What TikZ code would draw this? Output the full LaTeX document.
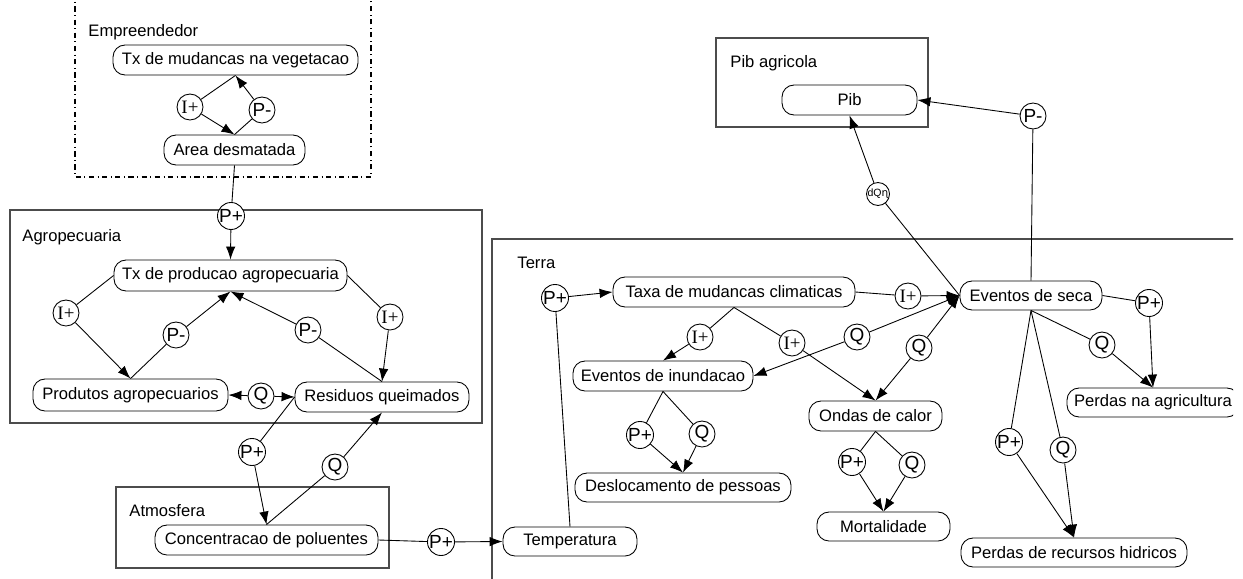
\documentclass[tikz,border=0pt]{standalone}
\usepackage{fontspec}
\setmainfont{Liberation Sans}
\newfontfamily\serifI{Liberation Serif}
\newfontfamily\dejavu{DejaVu Sans}
\usepackage{tikz}
\usetikzlibrary{arrows.meta}
\tikzset{>={Latex[length=2.6mm,width=1.9mm]}}

\begin{document}
\begin{tikzpicture}[x=0.02cm, y=-0.02cm, line width=0.5pt,
    font=\fontsize{9.45}{11}\selectfont,
    qty/.style={draw, rounded corners=0.24cm, minimum height=0.6cm, inner xsep=2pt, inner ysep=0pt},
    rel/.style={draw, circle, minimum size=0.52cm, inner sep=0pt, font=\fontsize{10.8}{12}\selectfont},
    lbl/.style={anchor=west, inner sep=0pt},
    frame/.style={draw=black!70, line width=0.8pt}]
  \useasboundingbox (0,0) rectangle (1243,578);
  \clip (0,0) rectangle (1233,578);
  % Empreendedor
  \draw[dash dot, line width=0.6pt] (75,-20) rectangle (371,177);
  \node[lbl] (lbEmp) at (88,32) {Empreendedor};
  \node[qty, minimum width=4.9cm] (veg) at (235.5,60) {Tx de mudancas na vegetacao};
  \node[qty, minimum width=2.82cm] (area) at (234.5,150) {Area desmatada};
  \node[rel] (vegI) at (190,107) {\serifI I+};
  \node[rel] (vegP) at (262,110) {P-};
  \draw (veg.south) -- (vegI);
  \draw[->] (vegI) -- (area.north);
  \draw (area.north) -- (vegP);
  \draw[->] (vegP) -- (veg.south);
  % Agropecuaria
  \draw[frame] (10,210) rectangle (482,423);
  \node[lbl] (lbAgro) at (22,237) {Agropecuaria};
  \node[qty, minimum width=4.66cm, minimum height=0.62cm] (prod) at (230.5,275.5) {Tx de producao agropecuaria};
  \node[qty, minimum width=3.9cm, minimum height=0.64cm] (produtos) at (130.5,395) {Produtos agropecuarios};
  \node[qty, minimum width=3.48cm] (res) at (382,397) {Residuos queimados};
  \node[rel, fill=white] (agP) at (231,216) {P+};
  \node[rel] (agIl) at (66,313) {\serifI I+};
  \node[rel] (agPl) at (176,335) {P-};
  \node[rel] (agPr) at (308,330) {P-};
  \node[rel] (agIr) at (390,317) {\serifI I+};
  \node[rel] (agQ) at (261,396) {Q};
  \draw (area.south) -- (agP);
  \draw[->] (agP) -- (prod.north);
  \draw (prod.west) -- (agIl);
  \draw[->] (agIl) -- (produtos.north);
  \draw (produtos.north) -- (agPl);
  \draw[->] (agPl) -- (prod.south);
  \draw (res.north) -- (agPr);
  \draw[->] (agPr) -- (prod.south);
  \draw (prod.east) -- (agIr);
  \draw[->] (agIr) -- (res.north);
  \draw[->] (agQ) -- (produtos.east);
  \draw[->] (agQ) -- (res.west);
  % Atmosfera
  \draw[frame] (116,487) rectangle (389,568);
  \node[lbl] (lbAtm) at (129,511) {Atmosfera};
  \node[qty, minimum width=4.46cm] (conc) at (266.5,540) {Concentracao de poluentes};
  \node[rel] (atP) at (252,452) {P+};
  \node[rel] (atQ) at (335,467) {Q};
  \node[rel] (atT) at (441,542) {P+};
  \draw (res.west) -- (atP);
  \draw[->] (atP) -- (conc.north);
  \draw (conc.north) -- (atQ);
  \draw[->] (atQ) -- (res.south);
  % Terra
  \draw[frame] (492,239) rectangle (1300,640);
  \node[lbl] (lbTerra) at (517,263) {Terra};
  \node[qty, minimum width=2.68cm, minimum height=0.58cm] (temp) at (570,541.5) {Temperatura};
  \node[qty, minimum width=4.84cm] (taxa) at (734,292) {Taxa de mudancas climaticas};
  \node[qty, minimum width=3.6cm] (inund) at (663,376) {Eventos de inundacao};
  \node[qty, minimum width=2.66cm] (ondas) at (875.5,416) {Ondas de calor};
  \node[qty, minimum width=4.32cm, minimum height=0.58cm] (desloc) at (683,487.5) {Deslocamento de pessoas};
  \node[qty, minimum width=2.66cm, minimum height=0.58cm] (mort) at (883.5,526.5) {Mortalidade};
  \node[qty, minimum width=2.84cm, minimum height=0.58cm] (seca) at (1031,295.5) {Eventos de seca};
  \node[qty, minimum width=3.44cm, minimum height=0.58cm] (agric) at (1153,402.5) {Perdas na agricultura};
  \node[qty, minimum width=4.52cm, minimum height=0.58cm] (hidr) at (1074,552.5) {Perdas de recursos hidricos};
  \draw (conc.east) -- (atT);
  \draw[->] (atT) -- (temp.west);
  \node[rel] (teP) at (555,298) {P+};
  \node[rel] (teI) at (908,296) {\serifI I+};
  \node[rel] (teIl) at (700,337) {\serifI I+};
  \node[rel] (teIr) at (792,343) {\serifI I+};
  \node[rel] (teQm) at (857,337) {Q};
  \node[rel] (teQr) at (919,348) {Q};
  \draw (temp.north) -- (teP);
  \draw[->] (teP) -- (taxa.west);
  \draw (taxa.east) -- (teI);
  \draw[->] (teI) -- (seca.west);
  \draw (taxa.south) -- (teIl);
  \draw[->] (teIl) -- (inund.north);
  \draw (taxa.south) -- (teIr);
  \draw[->] (teIr) -- (ondas.north);
  \draw[->] (teQm) -- (seca.west);
  \draw[->] (teQm) -- (inund.east);
  \draw[->] (teQr) -- (seca.west);
  \draw[->] (teQr) -- (ondas.north);
  % inundacao e calor
  \node[rel] (inP) at (640,435) {P+};
  \node[rel] (inQ) at (702,434) {Q};
  \node[rel] (onP) at (852,462) {P+};
  \node[rel] (onQ) at (912,465) {Q};
  \draw (inund.south) -- (inP);
  \draw[->] (inP) -- (desloc.north);
  \draw (inund.south) -- (inQ);
  \draw[->] (inQ) -- (desloc.north);
  \draw (ondas.south) -- (onP);
  \draw[->] (onP) -- (mort.north);
  \draw (ondas.south) -- (onQ);
  \draw[->] (onQ) -- (mort.north);
  % seca
  \node[rel] (sePa) at (1149,303) {P+};
  \node[rel] (seQa) at (1102,345) {Q};
  \node[rel] (sePh) at (1009,442) {P+};
  \node[rel] (seQh) at (1063,450) {Q};
  \draw (seca.east) -- (sePa);
  \draw[->] (sePa) -- (agric.north);
  \draw (seca.south) -- (seQa);
  \draw[->] (seQa) -- (agric.north);
  \draw (seca.south) -- (sePh);
  \draw[->] (sePh) -- (hidr.north);
  \draw (seca.south) -- (seQh);
  \draw[->] (seQh) -- (hidr.north);
  % Pib agricola
  \draw[frame] (716,38) rectangle (928,127);
  \node[lbl] (lbPib) at (730,63) {Pib agricola};
  \node[qty, minimum width=2.7cm] (pib) at (849.5,100) {Pib};
  \node[rel] (piP) at (1033,116) {P-};
  \node[rel, minimum size=0.44cm, font=\fontsize{6}{7}\selectfont] (piQ) at (878,194) {dQ{\dejavu ɳ}};
  \draw (seca.north) -- (piP);
  \draw[->] (piP) -- (pib.east);
  \draw (seca.west) -- (piQ);
  \draw[->] (piQ) -- (pib.south);
\end{tikzpicture}
\end{document}
